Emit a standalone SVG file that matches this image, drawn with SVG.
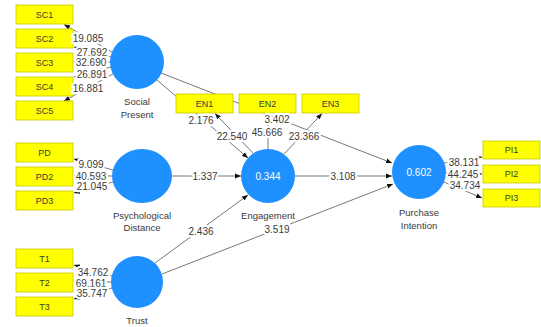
<svg xmlns="http://www.w3.org/2000/svg" width="541" height="327" viewBox="0 0 541 327">
<style>
.box{fill:#ffff00;stroke:#c9c900;stroke-width:0.8}
.bt{font-family:"Liberation Sans",Arial,sans-serif;font-size:9px;fill:#3a3a3a;text-anchor:middle}
.lv{fill:#1e90ff}
.nl{font-family:"Liberation Sans",Arial,sans-serif;font-size:9.5px;fill:#3a3a3a;text-anchor:middle}
.val{font-family:"Liberation Sans",Arial,sans-serif;font-size:10px;fill:#ffffff;text-anchor:middle}
.ln{stroke:#555;stroke-width:0.8;fill:none;marker-end:url(#ah)}
.lb{font-family:"Liberation Sans",Arial,sans-serif;font-size:10px;fill:#3a3a3a;text-anchor:middle;paint-order:stroke;stroke:#fff;stroke-width:4.5px;stroke-linejoin:round}
</style>
<defs>
<marker id="ah" viewBox="0 0 10 10" refX="10" refY="5" markerWidth="6" markerHeight="6" orient="auto" markerUnits="userSpaceOnUse">
<path d="M0,1 L10,5 L0,9 z" fill="#111"/>
</marker>
</defs>
<rect width="541" height="327" fill="#ffffff"/>
<g id="connectors">
<line class="ln" x1="112" y1="52" x2="64" y2="24.5"/>
<line class="ln" x1="111" y1="57" x2="74" y2="47"/>
<line class="ln" x1="110" y1="62" x2="74" y2="62"/>
<line class="ln" x1="111" y1="67" x2="74" y2="77"/>
<line class="ln" x1="113" y1="74" x2="64" y2="101"/>
<line class="ln" x1="113" y1="170" x2="74" y2="159"/>
<line class="ln" x1="112" y1="176" x2="74" y2="176"/>
<line class="ln" x1="113" y1="182" x2="74" y2="193"/>
<line class="ln" x1="112" y1="276" x2="74" y2="265"/>
<line class="ln" x1="111" y1="282" x2="74" y2="282"/>
<line class="ln" x1="112" y1="288" x2="74" y2="299"/>
<line class="ln" x1="444" y1="163" x2="482" y2="157"/>
<line class="ln" x1="446" y1="173" x2="482" y2="174"/>
<line class="ln" x1="444" y1="182" x2="482" y2="198"/>
<line class="ln" x1="161" y1="73" x2="392" y2="163"/>
<line class="ln" x1="157" y1="80" x2="248" y2="158"/>
<line class="ln" x1="253" y1="153" x2="215" y2="113.5"/>
<line class="ln" x1="268" y1="149" x2="268" y2="113.5"/>
<line class="ln" x1="284" y1="154" x2="322" y2="113.5"/>
<line class="ln" x1="172" y1="176" x2="241" y2="176"/>
<line class="ln" x1="295" y1="176" x2="392" y2="176"/>
<line class="ln" x1="155" y1="263" x2="248" y2="195"/>
<line class="ln" x1="162" y1="274" x2="393" y2="184"/>
</g>
<g id="social-present">
<circle class="lv" cx="137" cy="62" r="27"/>
<text class="nl" x="137" y="105">Social</text>
<text class="nl" x="137" y="118">Present</text>
</g>
<g id="psychological-distance">
<ellipse class="lv" cx="142" cy="176" rx="30" ry="27"/>
<text class="nl" x="142" y="219">Psychological</text>
<text class="nl" x="142" y="231">Distance</text>
</g>
<g id="trust">
<circle class="lv" cx="137" cy="282" r="26"/>
<text class="nl" x="137" y="324">Trust</text>
</g>
<g id="engagement">
<circle class="lv" cx="268" cy="176" r="27"/>
<text class="val" x="268" y="180">0.344</text>
<text class="nl" x="268" y="219">Engagement</text>
</g>
<g id="purchase-intention">
<circle class="lv" cx="419" cy="172" r="27"/>
<text class="val" x="419" y="176">0.602</text>
<text class="nl" x="419" y="216">Purchase</text>
<text class="nl" x="419" y="229">Intention</text>
</g>
<g id="SC1"><rect class="box" x="16" y="5" width="57" height="19"/><text class="bt" x="44.5" y="18">SC1</text></g>
<g id="SC2"><rect class="box" x="16" y="29" width="57" height="19"/><text class="bt" x="44.5" y="42">SC2</text></g>
<g id="SC3"><rect class="box" x="16" y="53" width="57" height="19"/><text class="bt" x="44.5" y="66">SC3</text></g>
<g id="SC4"><rect class="box" x="16" y="77" width="57" height="19"/><text class="bt" x="44.5" y="90">SC4</text></g>
<g id="SC5"><rect class="box" x="16" y="101" width="57" height="19"/><text class="bt" x="44.5" y="114">SC5</text></g>
<g id="PD"><rect class="box" x="16" y="143" width="57" height="19"/><text class="bt" x="44.5" y="156">PD</text></g>
<g id="PD2"><rect class="box" x="16" y="167" width="57" height="19"/><text class="bt" x="44.5" y="180">PD2</text></g>
<g id="PD3"><rect class="box" x="16" y="191" width="57" height="19"/><text class="bt" x="44.5" y="204">PD3</text></g>
<g id="T1"><rect class="box" x="16" y="249" width="57" height="19"/><text class="bt" x="44.5" y="262">T1</text></g>
<g id="T2"><rect class="box" x="16" y="273" width="57" height="19"/><text class="bt" x="44.5" y="286">T2</text></g>
<g id="T3"><rect class="box" x="16" y="297" width="57" height="19"/><text class="bt" x="44.5" y="310">T3</text></g>
<g id="EN1"><rect class="box" x="176" y="94" width="57" height="19"/><text class="bt" x="204.5" y="107">EN1</text></g>
<g id="EN2"><rect class="box" x="239" y="94" width="57" height="19"/><text class="bt" x="267.5" y="107">EN2</text></g>
<g id="EN3"><rect class="box" x="302" y="94" width="57" height="19"/><text class="bt" x="330.5" y="107">EN3</text></g>
<g id="PI1"><rect class="box" x="483" y="141" width="57" height="18"/><text class="bt" x="511.5" y="153">PI1</text></g>
<g id="PI2"><rect class="box" x="483" y="165" width="57" height="18"/><text class="bt" x="511.5" y="177">PI2</text></g>
<g id="PI3"><rect class="box" x="483" y="189" width="57" height="18"/><text class="bt" x="511.5" y="201">PI3</text></g>
<g id="labels">
<text class="lb" x="88" y="41.5">19.085</text>
<text class="lb" x="92" y="55.5">27.692</text>
<text class="lb" x="91" y="65.5">32.690</text>
<text class="lb" x="92" y="77.5">26.891</text>
<text class="lb" x="88" y="91.5">16.881</text>
<text class="lb" x="91" y="167.5">9.099</text>
<text class="lb" x="91" y="179.5">40.593</text>
<text class="lb" x="92" y="189.5">21.045</text>
<text class="lb" x="93" y="275.5">34.762</text>
<text class="lb" x="91" y="286.5">69.161</text>
<text class="lb" x="92" y="296.5">35.747</text>
<text class="lb" x="464" y="165.5">38.131</text>
<text class="lb" x="463" y="177.5">44.245</text>
<text class="lb" x="465" y="188.5">34.734</text>
<text class="lb" x="277" y="122.5">3.402</text>
<text class="lb" x="201" y="123.5">2.176</text>
<text class="lb" x="232" y="139.5">22.540</text>
<text class="lb" x="267" y="135.5">45.666</text>
<text class="lb" x="304" y="139.5">23.366</text>
<text class="lb" x="205" y="179.5">1.337</text>
<text class="lb" x="343" y="179.5">3.108</text>
<text class="lb" x="201" y="234.5">2.436</text>
<text class="lb" x="277" y="232.5">3.519</text>
</g>
</svg>
